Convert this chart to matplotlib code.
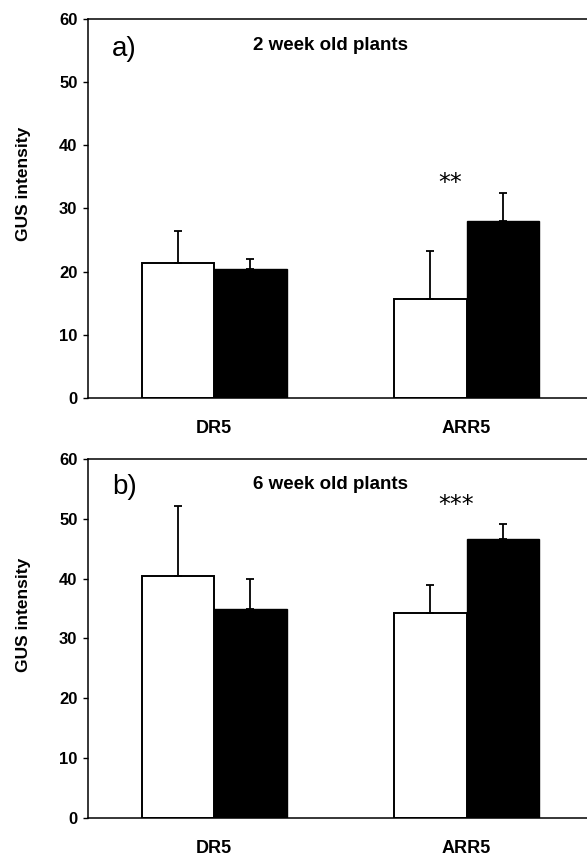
import numpy as np
import matplotlib
matplotlib.use("Agg")
import matplotlib.pyplot as plt

plt.rcParams['font.family'] = ['Liberation Sans', 'DejaVu Sans']

categories = ['DR5', 'ARR5']

# panel a) 2 week old plants
a_white = [21.3, 15.7]
a_white_err = [5.1, 7.6]
a_black = [20.4, 28.0]
a_black_err = [1.6, 4.4]

# panel b) 6 week old plants
b_white = [40.5, 34.2]
b_white_err = [11.7, 4.8]
b_black = [34.9, 46.7]
b_black_err = [5.1, 2.5]

panels = [
    ('a)', '2 week old plants', a_white, a_white_err, a_black, a_black_err, '**', 1.934, 32.9),
    ('b)', '6 week old plants', b_white, b_white_err, b_black, b_black_err, '***', 1.958, 51.2),
]

fig = plt.figure(figsize=(5.87, 8.59), dpi=100)
boxes = [[0.150, 0.5367, 0.860, 0.4412], [0.150, 0.0481, 0.860, 0.4172]]

x = np.arange(1, len(categories) + 1)
w = 0.287
ekw = dict(ecolor='black', elinewidth=1.3, capsize=3, capthick=1.3)

for box, (tag, title, wv, we, bv, be, stars, sx, sy) in zip(boxes, panels):
    ax = fig.add_axes(box)
    ax.bar(x - w / 2, wv, w, color='white', edgecolor='black', linewidth=1.4,
           yerr=[np.zeros(len(we)), we], error_kw=ekw)
    ax.bar(x + w / 2, bv, w, color='black', edgecolor='black', linewidth=1.0,
           yerr=[np.zeros(len(be)), be], error_kw=ekw)
    ax.set_xlim(0.5, 2.5)
    ax.set_ylim(0, 60)
    ax.set_yticks(np.arange(0, 61, 10))
    ax.set_xticks(x)
    ax.set_xticklabels(categories, fontsize=13, fontweight='bold')
    ax.tick_params(axis='x', length=0, pad=16)
    ax.tick_params(axis='y', direction='out', length=3.6, width=1, labelsize=12, pad=4)
    for lab in ax.get_yticklabels():
        lab.set_fontweight('bold')
    ax.set_ylabel('GUS intensity', fontsize=12.5, fontweight='bold')
    ax.yaxis.set_label_coords(-0.114, 0.565)
    ax.spines['right'].set_visible(False)
    for s in ['left', 'top', 'bottom']:
        ax.spines[s].set_linewidth(1.1)
    ax.text(0.643, 55.3, tag, fontsize=20, va='center', ha='center')
    ax.text(1.153, 55.8, title, fontsize=13.5, fontweight='bold', va='center', ha='left')
    ax.text(sx, sy, stars, fontsize=17, va='baseline', ha='center',
            family='DejaVu Sans')

fig.savefig('out.png', dpi=100)
